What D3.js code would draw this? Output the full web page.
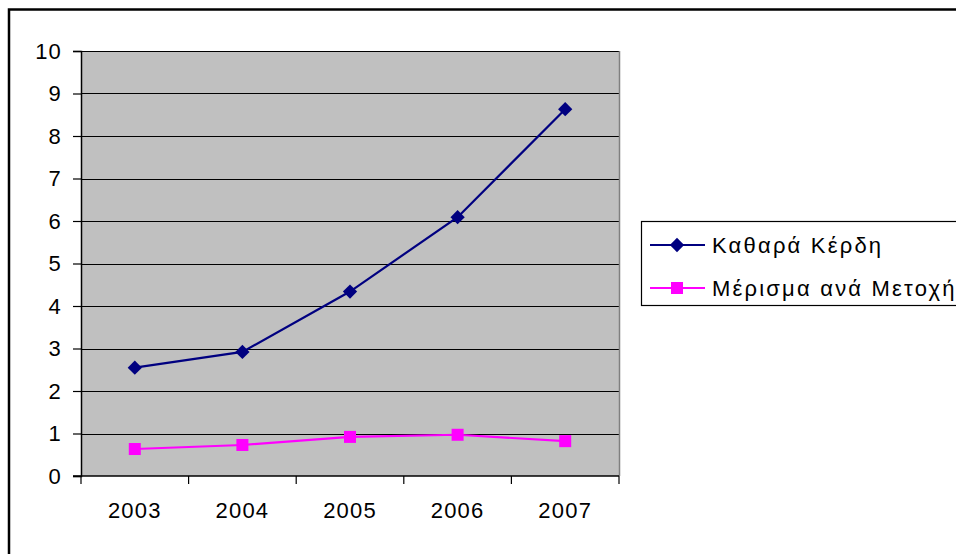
<!DOCTYPE html>
<html>
<head>
<meta charset="utf-8">
<script src="https://cdn.jsdelivr.net/npm/d3@7"></script>
<style>
  body { margin: 0; background: #fff; }
  svg { display: block; font-family: "Liberation Sans", Arial, sans-serif; }
</style>
</head>
<body>
<script>
const years = ["2003", "2004", "2005", "2006", "2007"];
const netProfit = [2.55, 2.92, 4.34, 6.09, 8.63];
const dividend = [0.635, 0.73, 0.92, 0.97, 0.82];
const seriesNames = ["Καθαρά Κέρδη", "Μέρισμα ανά Μετοχή"];
const yTicks = [0, 1, 2, 3, 4, 5, 6, 7, 8, 9, 10];

function main() {
    const canvasWidth = 956;
    const canvasHeight = 554;

    const svg = d3.select("body").append("svg")
        .attr("width", canvasWidth)
        .attr("height", canvasHeight);

    // outer chart frame (right and bottom run off the picture)
    svg.append("rect")
        .attr("x", 9).attr("y", 9.5)
        .attr("width", 1000).attr("height", 600)
        .attr("fill", "#fff")
        .attr("stroke", "#000")
        .attr("stroke-width", 2.5);

    const plotLeft = 81, plotRight = 619, plotTop = 51, plotBottom = 476;

    const x = d3.scaleBand().domain(years).range([plotLeft, plotRight]);
    const y = d3.scaleLinear().domain([0, 10]).range([plotBottom, plotTop]);
    const cx = d => x(d) + x.bandwidth() / 2;

    svg.append("rect")
        .attr("x", plotLeft).attr("y", plotTop)
        .attr("width", plotRight - plotLeft).attr("height", plotBottom - plotTop)
        .attr("fill", "#c0c0c0");

    // gridlines
    svg.append("g")
        .selectAll("line")
        .data(yTicks.filter(d => d > 0))
        .enter()
        .append("line")
        .attr("x1", plotLeft).attr("x2", plotRight)
        .attr("y1", d => Math.round(y(d)) + 0.5).attr("y2", d => Math.round(y(d)) + 0.5)
        .attr("stroke", "#000")
        .attr("stroke-width", 1.2);

    // right border of plot
    svg.append("line")
        .attr("x1", plotRight + 0.5).attr("x2", plotRight + 0.5)
        .attr("y1", plotTop).attr("y2", plotBottom)
        .attr("stroke", "#808080").attr("stroke-width", 1.5);

    const yAxis = svg.append("g")
        .attr("transform", "translate(" + plotLeft + ",0)")
        .call(d3.axisLeft(y).tickValues(yTicks).tickSize(8).tickPadding(11).tickFormat(d => d));
    yAxis.select(".domain").attr("stroke", "#000").attr("stroke-width", 1.5);
    yAxis.selectAll(".tick line").attr("stroke", "#000").attr("stroke-width", 1.2);
    yAxis.selectAll("text").attr("font-size", 22).attr("fill", "#000")
        .attr("letter-spacing", 1.2)
        .attr("font-family", "Liberation Sans, Arial, sans-serif");

    const xAxis = svg.append("g")
        .attr("transform", "translate(0," + plotBottom + ")")
        .call(d3.axisBottom(x).tickSize(0).tickPadding(26));
    xAxis.select(".domain").remove();
    xAxis.append("line")
        .attr("x1", plotLeft - 8).attr("x2", plotRight)
        .attr("stroke", "#000").attr("stroke-width", 1.5);
    xAxis.selectAll(".edge")
        .data(d3.range(years.length + 1))
        .enter()
        .append("line")
        .attr("x1", i => plotLeft + i * x.step()).attr("x2", i => plotLeft + i * x.step())
        .attr("y1", 0).attr("y2", 8)
        .attr("stroke", "#000").attr("stroke-width", 1.2);
    xAxis.selectAll("text").attr("font-size", 22).attr("fill", "#000")
        .attr("letter-spacing", 1.2)
        .attr("font-family", "Liberation Sans, Arial, sans-serif");

    const line = d3.line().x((d, i) => cx(years[i])).y(d => y(d));

    svg.append("path")
        .datum(netProfit)
        .attr("d", line)
        .attr("fill", "none")
        .attr("stroke", "#000080")
        .attr("stroke-width", 2.2);

    svg.append("path")
        .datum(dividend)
        .attr("d", line)
        .attr("fill", "none")
        .attr("stroke", "#ff00ff")
        .attr("stroke-width", 2.2);

    const diamond = d3.symbol().type(d3.symbolDiamond2).size(130);

    svg.append("g")
        .selectAll("path")
        .data(netProfit)
        .enter()
        .append("path")
        .attr("d", diamond)
        .attr("transform", (d, i) => "translate(" + cx(years[i]) + "," + y(d) + ")")
        .attr("fill", "#000080");

    svg.append("g")
        .selectAll("rect")
        .data(dividend)
        .enter()
        .append("rect")
        .attr("x", (d, i) => cx(years[i]) - 6)
        .attr("y", d => y(d) - 6)
        .attr("width", 12).attr("height", 12)
        .attr("fill", "#ff00ff");

    // legend
    const legend = svg.append("g");
    legend.append("rect")
        .attr("x", 641.5).attr("y", 221.5)
        .attr("width", 400).attr("height", 84)
        .attr("fill", "#fff")
        .attr("stroke", "#000").attr("stroke-width", 1.2);

    const rows = [
        { name: seriesNames[0], color: "#000080", y: 245, shape: "diamond" },
        { name: seriesNames[1], color: "#ff00ff", y: 288, shape: "square" }
    ];
    rows.forEach(r => {
        legend.append("line")
            .attr("x1", 650).attr("x2", 705)
            .attr("y1", r.y).attr("y2", r.y)
            .attr("stroke", r.color).attr("stroke-width", 2.2);
        if (r.shape === "diamond") {
            legend.append("path")
                .attr("d", diamond)
                .attr("transform", "translate(677," + r.y + ")")
                .attr("fill", r.color);
        } else {
            legend.append("rect")
                .attr("x", 671).attr("y", r.y - 6)
                .attr("width", 12).attr("height", 12)
                .attr("fill", r.color);
        }
        legend.append("text")
            .attr("x", 712).attr("y", r.y)
            .attr("dy", "0.35em")
            .attr("font-size", 22)
            .attr("letter-spacing", 2.2)
            .attr("fill", "#000")
            .text(r.name);
    });
}
main();
</script>
</body>
</html>
